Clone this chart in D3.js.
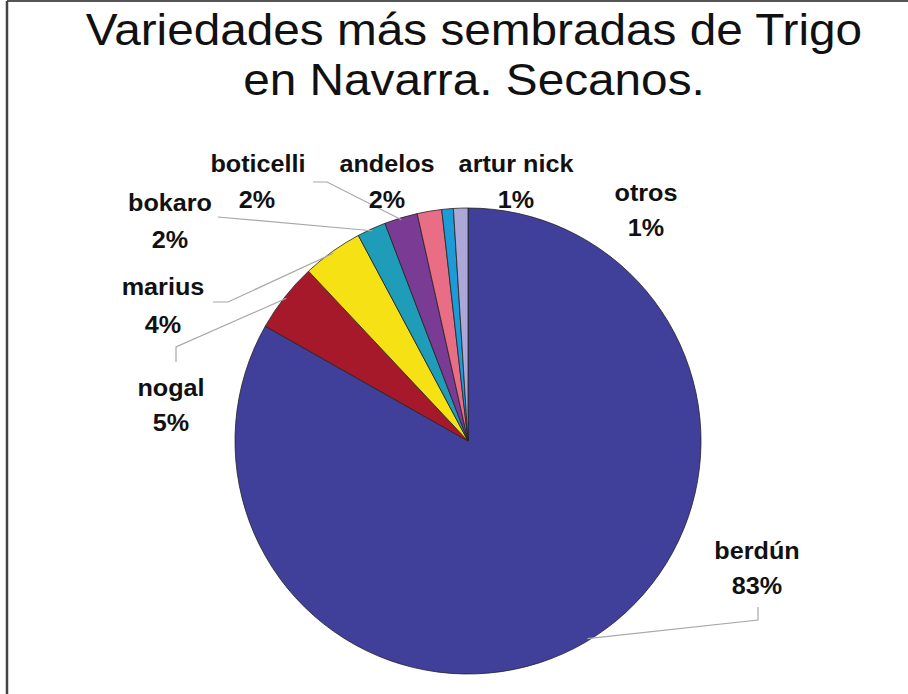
<!DOCTYPE html>
<html><head><meta charset="utf-8">
<script src="https://cdn.jsdelivr.net/npm/d3@7"></script>
<style>html,body{margin:0;padding:0;background:#fff}svg{display:block}</style>
</head><body>
<svg id="c" width="908" height="694"></svg>
<script>
const categories = ["berdún","nogal","marius","bokaro","boticelli","andelos","artur nick","otros"];
const values = [83.2, 4.8, 4.2, 2.0, 2.3, 1.7, 0.8, 1.0];
const labels = ["83%","5%","4%","2%","2%","2%","1%","1%"];
const colors = ["#40409A","#A6192A","#F6E214","#1F9DB8","#7A3B94","#E96D84","#1C9BD6","#ABA8D8"];
const titleLines = ["Variedades más sembradas de Trigo","en Navarra. Secanos."];

const svg = d3.select("#c");
const W = 908, H = 694;
// frame (left and top)
svg.append("line").attr("x1",7).attr("y1",1).attr("x2",W).attr("y2",1).attr("stroke","#555").attr("stroke-width",2);
svg.append("line").attr("x1",7).attr("y1",1).attr("x2",7).attr("y2",H).attr("stroke","#444").attr("stroke-width",2.5);

// title
const tY = [45, 95];
titleLines.forEach((t,i)=>{
  svg.append("text").attr("transform",`translate(474,${tY[i]}) scale(1.085,1)`)
    .attr("text-anchor","middle").attr("font-family","Liberation Sans, Arial, sans-serif")
    .attr("font-size",44).attr("fill","#111").text(t);
});

const cx = 468, cy = 441, R = 233;
const pie = d3.pie().sort(null).value(d=>d)(values);
const arc = d3.arc().innerRadius(0).outerRadius(R);
const g = svg.append("g").attr("transform",`translate(${cx},${cy})`);
g.selectAll("path").data(pie).join("path")
  .attr("d",arc).attr("fill",(d,i)=>colors[i])
  .attr("stroke","#222").attr("stroke-width",0.8).attr("stroke-linejoin","round");

const labelPos = [
  {x:757,y:559},{x:171,y:396},{x:163,y:295},{x:170,y:211},
  {x:258,y:172},{x:387,y:172},{x:516,y:172},{x:646,y:201}
];
const pctPos = [
  {x:757,y:594},{x:171,y:431},{x:163,y:333},{x:170,y:248},
  {x:257,y:208},{x:387,y:208},{x:516,y:208},{x:646,y:236}
];
const leaders = {
  0:{pts:[[758,607],[758,620]], f:0.497},
  1:{pts:[[176,362],[176,347]], f:0.5},
  2:{pts:[[213,302],[228,302]], f:0.5},
  3:{pts:[[218,217]], f:0.5},
  4:{pts:[[313,182],[327,182]], f:0.5}
};
Object.keys(leaders).forEach(k=>{
  const i=+k, d=pie[i];
  const a=d.startAngle+(d.endAngle-d.startAngle)*leaders[k].f;
  const ex = cx + Math.sin(a)*(R-2), ey = cy - Math.cos(a)*(R-2);
  const pts = leaders[k].pts.concat([[ex,ey]]);
  svg.append("path").attr("d",d3.line()(pts)).attr("fill","none")
    .attr("stroke","#A8A8A8").attr("stroke-width",1.2);
});

const lf = "Liberation Sans, Arial, sans-serif";
categories.forEach((c,i)=>{
  svg.append("text").attr("transform",`translate(${labelPos[i].x},${labelPos[i].y}) scale(1.05,1)`)
    .attr("text-anchor","middle").attr("font-family",lf).attr("font-weight","bold")
    .attr("font-size",24).attr("fill","#111").text(c);
  svg.append("text").attr("transform",`translate(${pctPos[i].x},${pctPos[i].y}) scale(1.05,1)`)
    .attr("text-anchor","middle").attr("font-family",lf).attr("font-weight","bold")
    .attr("font-size",24).attr("fill","#111").text(labels[i]);
});
</script>
</body></html>
